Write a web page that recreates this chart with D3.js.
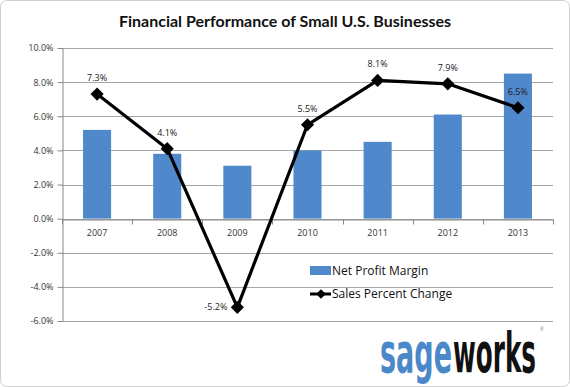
<html>
<head>
<meta charset="UTF-8">
<title>Financial Performance of Small U.S. Businesses</title>
<script src="https://cdn.jsdelivr.net/npm/d3@7"></script>
<style>
  body { margin: 0; background: #fff; }
  .axis text { font: 9px "Open Sans", sans-serif; fill: #333; }
  .axis path, .axis line { stroke: #888; }
  .grid line { stroke: #a6a6a6; }
  .lbl { font: 9px "Open Sans", sans-serif; fill: #222; }
  .legend text { font: 12px "Open Sans", sans-serif; fill: #111; }
</style>
</head>
<body>
<svg width="570" height="387"></svg>
<script>
  var years = ['2007', '2008', '2009', '2010', '2011', '2012', '2013'];
  var netProfitMargin = [5.2, 3.8, 3.1, 4.0, 4.5, 6.1, 8.5];
  var salesChange = [7.3, 4.1, -5.2, 5.5, 8.1, 7.9, 6.5];
  var yTicks = [-6, -4, -2, 0, 2, 4, 6, 8, 10];

  var svg = d3.select('svg');
  var margin = { top: 48, right: 17, bottom: 66, left: 62 },
      width = +svg.attr('width') - margin.left - margin.right,
      height = +svg.attr('height') - margin.top - margin.bottom;

  // outer frame
  svg.append('rect')
      .attr('x', 0.5).attr('y', 0.5)
      .attr('width', 569).attr('height', 386)
      .attr('rx', 6)
      .attr('fill', '#fff').attr('stroke', '#d0d0d0');

  svg.append('text')
      .attr('x', 285).attr('y', 27)
      .attr('text-anchor', 'middle')
      .style('font', 'bold 16px Lato, "Open Sans", sans-serif')
      .style('fill', '#111')
      .text('Financial Performance of Small U.S. Businesses');

  var g = svg.append('g').attr('transform', 'translate(' + margin.left + ',' + margin.top + ')');

  var x = d3.scaleBand().domain(years).range([0, width]);
  var y = d3.scaleLinear().domain([-6, 10]).range([height, 0]);
  var fmt = function(d) { return d.toFixed(1) + '%'; };

  g.append('g')
      .attr('class', 'grid')
    .selectAll('line')
    .data(yTicks)
    .enter().append('line')
      .attr('x1', 0).attr('x2', width)
      .attr('y1', function(d) { return Math.round(y(d)) + 0.5; })
      .attr('y2', function(d) { return Math.round(y(d)) + 0.5; });

  var yAxis = g.append('g')
      .attr('class', 'axis')
      .attr('transform', 'translate(0.5,0)')
      .call(d3.axisLeft(y).tickValues(yTicks).tickFormat(fmt).tickSize(5).tickSizeOuter(0));
  yAxis.selectAll('text').attr('dx', '-1');

  // bars
  g.append('g')
    .selectAll('rect')
    .data(netProfitMargin)
    .enter().append('rect')
      .attr('x', function(d, i) { return x(years[i]) + x.bandwidth() * 0.3; })
      .attr('width', x.bandwidth() * 0.4)
      .attr('y', function(d) { return y(d); })
      .attr('height', function(d) { return y(0) - y(d); })
      .attr('fill', '#4f89cc');

  // x axis at zero
  var xAxis = g.append('g')
      .attr('class', 'axis')
      .attr('transform', 'translate(0,' + (Math.round(y(0)) + 0.5) + ')')
      .call(d3.axisBottom(x).tickSize(0).tickPadding(10));
  xAxis.select('.domain').attr('stroke', '#888');
  xAxis.selectAll('.bnd')
    .data(years.concat(['end']))
    .enter().append('line')
      .attr('class', 'bnd')
      .attr('x1', function(d, i) { return Math.round(i * x.step()) + 0.5; })
      .attr('x2', function(d, i) { return Math.round(i * x.step()) + 0.5; })
      .attr('y1', 0).attr('y2', 5)
      .attr('stroke', '#888');

  // sales line
  var cx = function(d, i) { return x(years[i]) + x.bandwidth() / 2; };
  g.append('path')
      .datum(salesChange)
      .attr('fill', 'none')
      .attr('stroke', '#000')
      .attr('stroke-width', 3.2)
      .attr('stroke-linejoin', 'round')
      .attr('d', d3.line().x(cx).y(function(d) { return y(d); }));

  g.append('g')
    .selectAll('path')
    .data(salesChange)
    .enter().append('path')
      .attr('transform', function(d, i) { return 'translate(' + cx(d, i) + ',' + y(d) + ')'; })
      .attr('d', d3.symbol().type(d3.symbolDiamond2).size(110))
      .attr('fill', '#000');

  g.append('g')
    .selectAll('text')
    .data(salesChange)
    .enter().append('text')
      .attr('class', 'lbl')
      .attr('x', function(d, i) { return d < 0 ? cx(d, i) - 10 : cx(d, i); })
      .attr('y', function(d) { return d < 0 ? y(d) + 3 : y(d) - 13; })
      .attr('text-anchor', function(d) { return d < 0 ? 'end' : 'middle'; })
      .text(fmt);

  // legend
  var legend = svg.append('g').attr('class', 'legend').attr('transform', 'translate(310,0)');
  legend.append('rect')
      .attr('x', 0).attr('y', 266).attr('width', 21).attr('height', 9)
      .attr('fill', '#4f89cc');
  legend.append('text').attr('x', 22).attr('y', 275).text('Net Profit Margin');
  legend.append('line')
      .attr('x1', 0).attr('x2', 21).attr('y1', 294).attr('y2', 294)
      .attr('stroke', '#000').attr('stroke-width', 3);
  legend.append('path')
      .attr('transform', 'translate(11,294)')
      .attr('d', d3.symbol().type(d3.symbolDiamond2).size(60))
      .attr('fill', '#000');
  legend.append('text').attr('x', 22).attr('y', 298).text('Sales Percent Change');

  // logo: squeeze each word to its width with a scale transform
  var logoFont = 'bold 32px "DejaVu Sans Condensed", "DejaVu Sans", sans-serif';
  function logoWord(word, x0, w, color) {
    var t = svg.append('text')
        .style('font', logoFont).style('fill', color)
        .text(word);
    var natural = t.node().getComputedTextLength();
    t.attr('transform', 'translate(' + x0 + ',372) scale(' + (w / natural) + ',1.7)');
  }
  logoWord('sage', 380, 72, '#4a88c9');
  logoWord('works', 453, 83, '#111');
  svg.append('text')
      .attr('x', 540).attr('y', 331)
      .style('font', '5px sans-serif').style('fill', '#777')
      .text('®');
</script>
</body>
</html>
